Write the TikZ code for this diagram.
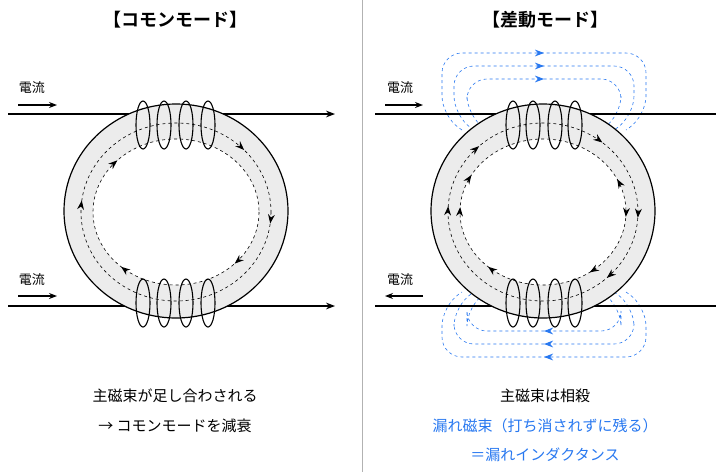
\documentclass[tikz,border=0pt]{standalone}
\usepackage{fontspec}
\setmainfont{Noto Sans CJK JP}[BoldFont={Noto Sans CJK JP Bold}]
\usetikzlibrary{arrows.meta}
\usetikzlibrary{decorations.markings}
\definecolor{leak blue}{RGB}{40,120,240}
\begin{document}
\begin{tikzpicture}[x=1pt,y=-1pt,
					band/.style={fill=gray!15, even odd rule},
					flux/.style={dashed, semithick, postaction={decorate}},
					coil/.style={draw, line width=1.1pt},
					wire/.style={line width=1.2pt},
					leak/.style={dashed, semithick, leak blue, rounded corners=20pt},
					label text/.style={font=\fontsize{15}{18}\selectfont},
					small text/.style={font=\fontsize{13}{15}\selectfont},
				]
					\def\tip{\arrow[solid, scale=1.6]{Stealth}}
					\def\pit{\arrowreversed[solid, scale=1.6]{Stealth}}
					\useasboundingbox (0,0) rectangle (728,472);
					\draw[gray!60] (362,0) -- (362,472);
					% titles
					\node[font=\fontsize{18}{22}\selectfont\bfseries] (tc) at (175,20) {【コモンモード】};
					\node[font=\fontsize{18}{22}\selectfont\bfseries] (td) at (545,20) {【差動モード】};

					% ---- common mode ----
					\coordinate (ca1) at (8,114);   \coordinate (cb1) at (335,114);
					\coordinate (ca2) at (8,306);   \coordinate (cb2) at (335,306);
					\draw[wire, -{Stealth[length=9pt]}] (ca1) -- (cb1);
					\draw[wire, -{Stealth[length=9pt]}] (ca2) -- (cb2);
					\node[small text] (ic1) at (32,88) {電流};
					\node[small text] (ic2) at (32,280) {電流};
					\coordinate (ic1a) at (18,105); \coordinate (ic1b) at (57,105);
					\coordinate (ic2a) at (18,296); \coordinate (ic2b) at (57,296);
					\draw[wire, -{Stealth[length=8pt]}] (ic1a) -- (ic1b);
					\draw[wire, -{Stealth[length=8pt]}] (ic2a) -- (ic2b);
					\path[band] (176,211) ellipse [x radius=112, y radius=107]
						(176,212) ellipse [x radius=83, y radius=73];
					\draw[line width=1.2pt] (176,211) ellipse [x radius=112, y radius=107];
					\draw[flux, decoration={markings,
						mark=at position 0.02 with {\tip},
						mark=at position 0.52 with {\tip},
						mark=at position 0.88 with {\tip}}]
						(176,212) ellipse [x radius=95, y radius=89];
					\draw[flux, decoration={markings,
						mark=at position 0.12 with {\tip},
						mark=at position 0.37 with {\tip},
						mark=at position 0.62 with {\tip}}]
						(176,212) ellipse [x radius=83, y radius=73];
					\foreach \x in {143,164,186,208} {
						\draw[coil] (\x,125) ellipse [x radius=7, y radius=24];
						\draw[coil] (\x,303) ellipse [x radius=7, y radius=24];
					}
					\node[label text] (mc1) at (175,396) {主磁束が足し合わされる};
					\node[label text] (mc2) at (175,426) {→ コモンモードを減衰};

					% ---- differential mode ----
					\foreach \w/\h in {0/0,12/13,25/26} {
						\draw[leak, decoration={markings, mark=at position 0.5 with {\tip}}, postaction={decorate}]
							(462+\w,130) -- (442+\w,116) -- (442+\w,53+\h) -- (646-\w,53+\h) -- (646-\w,116) -- (626-\w,130);
						\draw[leak, decoration={markings, mark=at position 0.5 with {\tip}}, postaction={decorate}]
							(626-\w,292) -- (646-\w,306) -- (646-\w,357-\h) -- (442+\w,357-\h) -- (442+\w,306) -- (462+\w,292);
					}
					\coordinate (da1) at (375,114); \coordinate (db1) at (716,114);
					\coordinate (da2) at (375,306); \coordinate (db2) at (716,306);
					\draw[wire] (da1) -- (db1);
					\draw[wire] (da2) -- (db2);
					\node[small text] (id1) at (400,88) {電流};
					\node[small text] (id2) at (400,280) {電流};
					\coordinate (id1a) at (385,105); \coordinate (id1b) at (423,105);
					\coordinate (id2a) at (423,296); \coordinate (id2b) at (385,296);
					\draw[wire, -{Stealth[length=8pt]}] (id1a) -- (id1b);
					\draw[wire, -{Stealth[length=8pt]}] (id2a) -- (id2b);
					\path[band] (543,211) ellipse [x radius=112, y radius=107]
						(543,212) ellipse [x radius=83, y radius=73];
					\draw[line width=1.2pt] (543,211) ellipse [x radius=112, y radius=107];
					\draw[flux, decoration={markings,
						mark=at position 0.01 with {\tip},
						mark=at position 0.13 with {\tip},
						mark=at position 0.51 with {\tip},
						mark=at position 0.63 with {\tip},
						mark=at position 0.86 with {\tip}}]
						(543,212) ellipse [x radius=95, y radius=89];
					\draw[flux, decoration={markings,
						mark=at position 0.01 with {\tip},
						mark=at position 0.15 with {\tip},
						mark=at position 0.37 with {\tip},
						mark=at position 0.51 with {\tip},
						mark=at position 0.58 with {\tip},
						mark=at position 0.93 with {\pit}}]
						(543,212) ellipse [x radius=83, y radius=73];
					\foreach \x in {513,533,555,575} {
						\draw[coil] (\x,125) ellipse [x radius=7, y radius=24];
						\draw[coil] (\x,303) ellipse [x radius=7, y radius=24];
					}
					\node[label text] (md1) at (545,396) {主磁束は相殺};
					\node[label text, text=leak blue] (md2) at (545,426) {漏れ磁束（打ち消されずに残る）};
					\node[label text, text=leak blue] (md3) at (545,455) {＝漏れインダクタンス};
				\end{tikzpicture}
\end{document}
